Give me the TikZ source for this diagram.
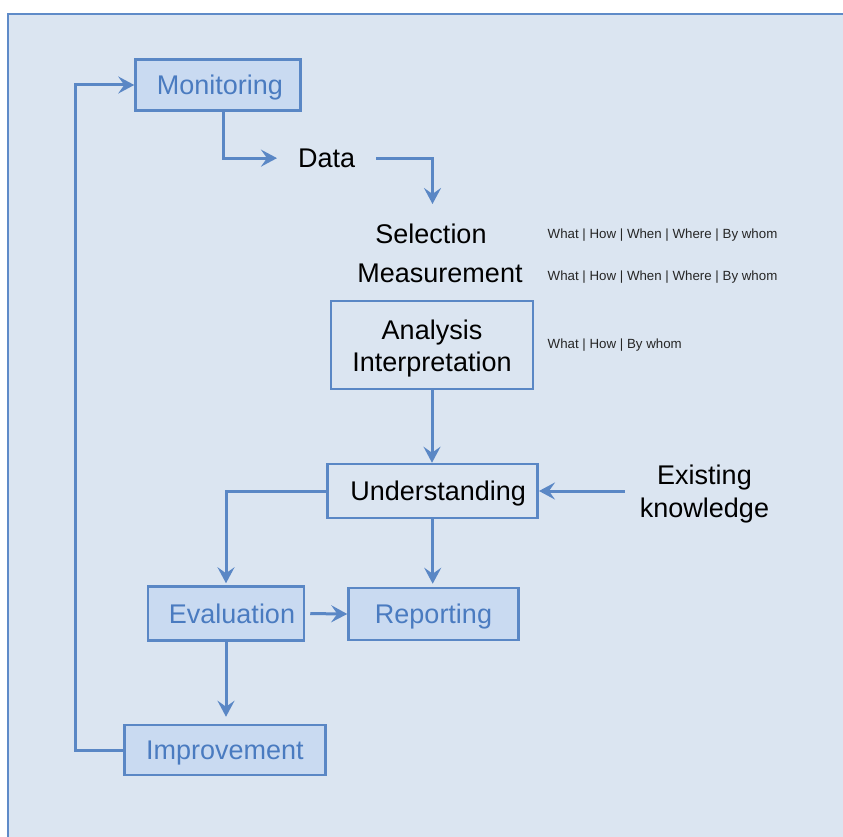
\documentclass[tikz,border=0pt]{standalone}
\usepackage{fontspec}
\setmainfont{Liberation Sans}
\usetikzlibrary{arrows.meta}

\definecolor{panelbg}{HTML}{DBE5F1}
\definecolor{panelline}{HTML}{5F8BC8}
\definecolor{flowline}{HTML}{5A87C5}
\definecolor{boxfill}{HTML}{C9DAF1}
\definecolor{bluetext}{HTML}{4A7BC0}

\tikzset{
  big/.style={font=\fontsize{27}{32.4}\selectfont},
  small/.style={font=\fontsize{13.3}{16}\selectfont, text=black!85},
  stepbox/.style={big, draw=flowline, line width=2.5pt, inner sep=0pt, align=center},
  onerow/.style={text height=19.4pt, text depth=0pt},
  bluebox/.style={stepbox, onerow, fill=boxfill, text=bluetext},
  plainbox/.style={stepbox, text=black},
  conn/.style={draw=flowline, line width=3pt,
    -{Stealth[length=16pt,width=17pt,inset=6pt]}},
}

\begin{document}
\begin{tikzpicture}[x=1pt,y=-1pt]
  \useasboundingbox (0,0) rectangle (843,837);
  % panel
  \draw[fill=panelbg, draw=panelline, line width=2pt] (8,14) rectangle (860,860);

  % boxes
  \node[bluebox, minimum width=165, minimum height=51] (mon) at (218,85) {\hspace{4pt}Monitoring};
  \node[plainbox, minimum width=202, minimum height=88] (ana) at (432,345) {\rule{0pt}{26.3pt}Analysis\\Interpretation};
  \node[plainbox, onerow, minimum width=210, minimum height=54] (und) at (432.7,491) {\hspace{11pt}Understanding};
  \node[bluebox, minimum width=156, minimum height=54] (eva) at (226,613.5) {\hspace{12pt}Evaluation};
  \node[bluebox, minimum width=170, minimum height=52] (rep) at (433.5,614) {Reporting};
  \node[bluebox, minimum width=201, minimum height=50] (imp) at (224.8,750) {Improvement};

  % free text
  \node[big, inner ysep=0pt, inner xsep=21pt, anchor=base] (data) at (326.7,167.3) {Data};
  \node[big, inner sep=0pt, anchor=base] (sel) at (431,243.3) {Selection};
  \node[big, inner sep=0pt, anchor=base] (mea) at (440,282) {Measurement};
  \node[big, align=center, inner xsep=15pt, inner ysep=0pt] (exi) at (704.5,494) {Existing\\knowledge};
  \coordinate (selin) at (432.5,204);

  \node[small, inner sep=0pt, anchor=base west] (q1) at (547.5,238.3) {What | How | When | Where | By whom};
  \node[small, inner sep=0pt, anchor=base west] (q2) at (547.5,280.7) {What | How | When | Where | By whom};
  \node[small, inner sep=0pt, anchor=base west] (q3) at (547.5,348.3) {What | How | By whom};

  % connectors
  \draw[conn] ([xshift=5pt]mon.south) |- (data.west);
  \draw[conn] (data.east) -| (selin);
  \draw[conn] (ana.south) -- (ana.south |- und.north);
  \draw[conn] (exi.west |- und.east) -- (und.east);
  \draw[conn, shorten >=2pt] (und.west) -| (eva.north);
  \draw[conn, shorten >=3pt] (und.south) -- (und.south |- rep.north);
  \draw[conn, shorten <=5pt] (eva.east) -- (rep.west);
  \draw[conn, shorten >=7pt] (eva.south) -- (eva.south |- imp.north);
  \draw[conn] (imp.west) -- ++(-48,0) |- (mon.west);
\end{tikzpicture}
\end{document}
